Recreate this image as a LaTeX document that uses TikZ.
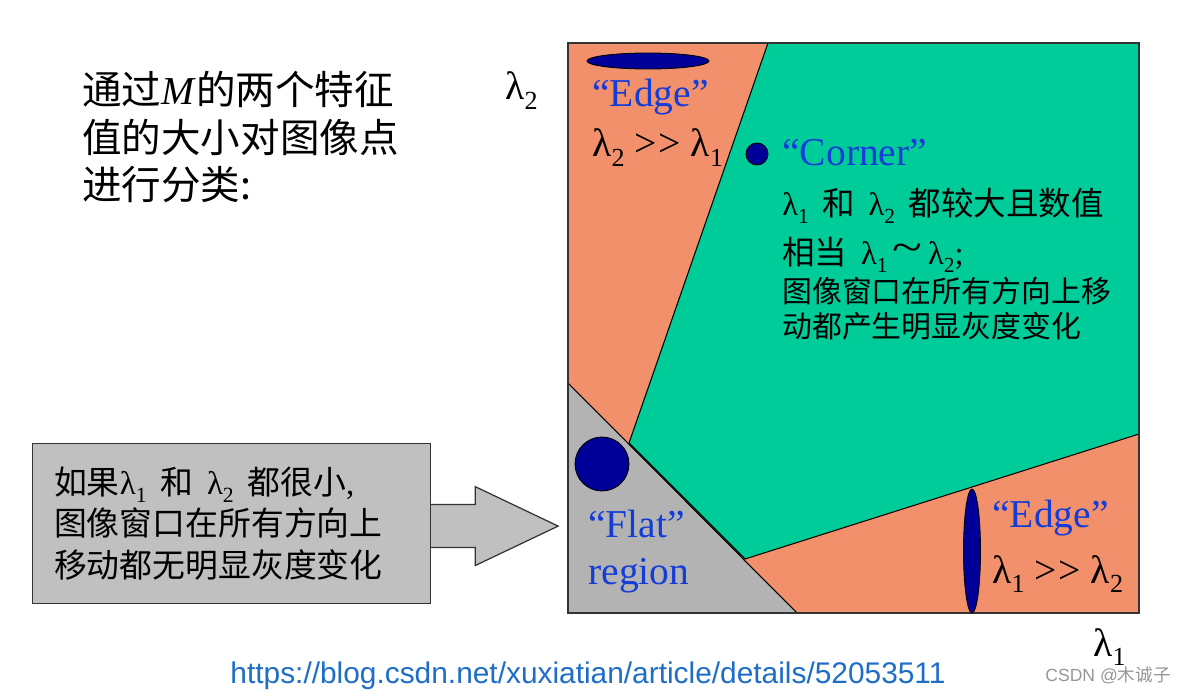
\documentclass[tikz,border=0pt]{standalone}
\usepackage{fontspec}
\usepackage{graphicx}
\setmainfont{Liberation Serif}
\newfontfamily\cjk{Noto Sans CJK SC}
\newfontfamily\urlfont{Liberation Sans}
\usetikzlibrary{shapes.geometric, positioning}

\definecolor{edgeorange}{RGB}{241,144,106}
\definecolor{cornergreen}{RGB}{0,204,153}
\definecolor{flatgray}{RGB}{179,179,179}
\definecolor{boxgray}{RGB}{192,192,192}
\definecolor{blobblue}{RGB}{0,0,153}
\definecolor{labelblue}{RGB}{20,60,215}
\definecolor{urlblue}{RGB}{30,110,200}
\definecolor{markgray}{RGB}{150,150,150}

\newcommand{\zh}[1]{{\cjk #1}}
\newcommand{\lam}[1]{λ\raisebox{-0.24em}{\scalebox{0.66}{#1}}}
\newcommand{\muchgt}{{>}\kern0.05em{>}}
\newcommand{\gap}{\hspace{0.42em}}

\begin{document}
\begin{tikzpicture}[x=0.02cm, y=-0.02cm,
  region/.style={draw=black, line width=0.6pt},
  blob/.style={draw=black, fill=blobblue, inner sep=0pt, line width=0.5pt},
  txt/.style={anchor=base west, inner sep=0pt},
  big/.style={txt, font=\fontsize{22.5}{27}\selectfont},
  tag/.style={big, text=labelblue},
  mid/.style={txt, font=\fontsize{18.5}{22}\selectfont},
  small/.style={txt, font=\fontsize{17}{20}\selectfont}]

  \useasboundingbox (0,0) rectangle (1197,692);

  % Regiones del plano (lambda1, lambda2)
  \fill[edgeorange] (568,43) rectangle (1139,613);
  \filldraw[region, fill=cornergreen]
    (768,43) -- (1139,43) -- (1139,434) -- (745,559) -- (629,443) -- cycle;
  \filldraw[region, fill=flatgray] (568,383) -- (797,613) -- (568,613) -- cycle;
  \draw[line width=0.8pt, black!80] (568,43) rectangle (1139,613);

  % Elipses de ejemplo
  \node[blob, ellipse, minimum width=2.44cm, minimum height=0.32cm] (edgetop) at (648,61) {};
  \node[blob, circle, minimum size=0.44cm] (cornerdot) at (757,154) {};
  \node[blob, circle, minimum size=1.08cm] (flatdot) at (602,464) {};
  \node[blob, ellipse, minimum width=0.34cm, minimum height=2.48cm] (edgeright) at (972,551) {};

  % Ejes
  \node[big] (lamy) at (505,100) {\lam{2}};
  \node[big] (lamx) at (1093,656) {\lam{1}};

  % Titulo
  \node[big] (title1) at (82,105) {\zh{通过}\textit{M}\zh{的两个特征}};
  \node[big] (title2) at (82,153) {\zh{值的大小对图像点}};
  \node[big] (title3) at (82,200) {\zh{进行分类:}};

  % Etiquetas de regiones
  \node[tag] (edgetoplbl) at (592,107) {“Edge”};
  \node[big] (edgetoprel) at (592,157) {\lam{2} \muchgt{} \lam{1}};

  \node[tag] (cornerlbl) at (782,166) {“Corner”};
  \node[mid] (corner1) at (782,216) {\lam{1}\gap\zh{和}\gap\lam{2}\gap\zh{都较大且数值}};
  \node[mid] (corner2) at (782,265)
    {\zh{相当}\gap\lam{1}\,\raisebox{0.1em}{\scalebox{1.7}[1.3]{\textasciitilde}}\,\lam{2};};
  \node[small] (corner3) at (782,303) {\zh{图像窗口在所有方向上移}};
  \node[small] (corner4) at (782,338) {\zh{动都产生明显灰度变化}};

  \node[tag] (flatlbl) at (588,537) {“Flat”};
  \node[tag] (flatlbl2) at (588,584) {region};

  \node[tag] (edgerightlbl) at (992,527) {“Edge”};
  \node[big] (edgerightrel) at (992,583) {\lam{1} \muchgt{} \lam{2}};

  % Caja explicativa y flecha
  \node[draw=black!80, fill=boxgray, line width=0.7pt, anchor=north west,
        minimum width=7.96cm, minimum height=3.2cm, text width=7.1cm, align=left,
        font=\fontsize{18.7}{23.8}\selectfont] (flatbox) at (32,443)
        {\zh{如果}\lam{1}\gap\zh{和}\gap\lam{2}\gap\zh{都很小},\\
         \zh{图像窗口在所有方向上}\\
         \zh{移动都无明显灰度变化}};
  \filldraw[fill=boxgray, draw=black!80, line width=0.7pt]
    (flatbox.east) ++(0,-19) -- ++(44,0) -- ++(0,-18) -- ++(83,39.5)
    -- ++(-83,39.5) -- ++(0,-18) -- ++(-44,0);

  % Fuente
  \node[anchor=base, inner sep=0pt, text=urlblue, font=\urlfont\fontsize{17}{20}\selectfont]
    (src) at (588,683) {https://blog.csdn.net/xuxiatian/article/details/52053511};
  \node[txt, text=markgray, font=\urlfont\fontsize{10}{12}\selectfont] (mark) at (1045,681)
    {CSDN @\zh{木诚子}};
\end{tikzpicture}
\end{document}
